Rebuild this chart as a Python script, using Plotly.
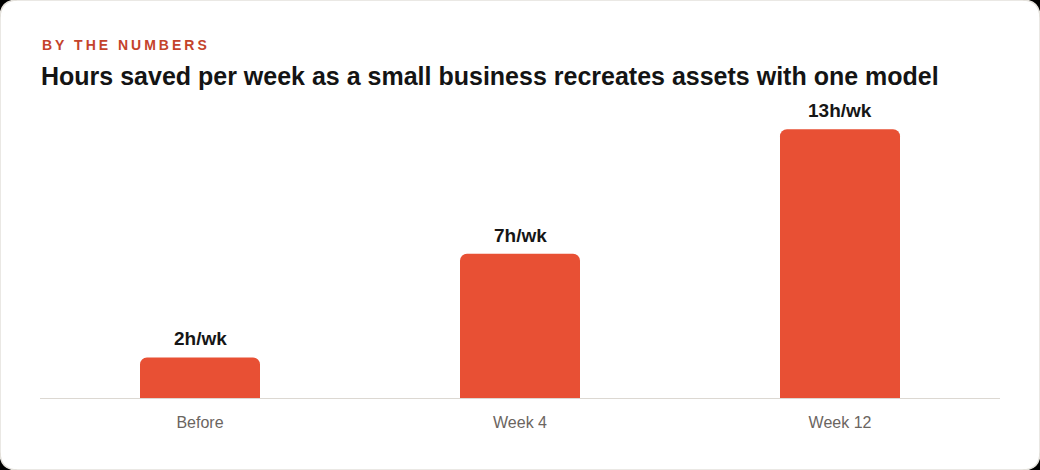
import plotly.graph_objects as go

categories = ["Before", "Week 4", "Week 12"]
hours = [2, 7, 13]
labels = ["2h/wk", "7h/wk", "13h/wk"]

W, H = 1040, 470
BAR = "#e85034"
FONT = "Liberation Sans, Arial, sans-serif"

fig = go.Figure(go.Bar(
    x=categories, y=hours,
    marker=dict(color=BAR, cornerradius=7, line=dict(width=0)),
    hoverinfo="skip",
))

fig.update_layout(
    width=W, height=H,
    paper_bgcolor="#000000", plot_bgcolor="rgba(0,0,0,0)",
    margin=dict(l=40, r=40, t=108, b=71),
    bargap=0.625,
    showlegend=False,
    font=dict(family=FONT),
    xaxis=dict(showgrid=False, zeroline=False, showline=False, ticks="",
               ticklabelstandoff=12,
               tickfont=dict(size=16, color="#6b655f"), fixedrange=True),
    yaxis=dict(range=[0, 14.02], visible=False, showgrid=False, zeroline=False, fixedrange=True),
)

pw = W - 80
ph = H - 108 - 71
def px(x):
    return (x - 40) / pw
def py(y):
    return (H - 71 - y) / ph

r = 18
card = (f"M {px(r)},{py(0)} L {px(W-r)},{py(0)} Q {px(W)},{py(0)} {px(W)},{py(r)} "
        f"L {px(W)},{py(H-r)} Q {px(W)},{py(H)} {px(W-r)},{py(H)} "
        f"L {px(r)},{py(H)} Q {px(0)},{py(H)} {px(0)},{py(H-r)} "
        f"L {px(0)},{py(r)} Q {px(0)},{py(0)} {px(r)},{py(0)} Z")

fig.add_shape(type="path", xref="paper", yref="paper", path=card, layer="below",
              fillcolor="#ffffff", line=dict(color="#e4e1db", width=1.5))
fig.add_shape(type="line", xref="paper", yref="y", x0=0, x1=1, y0=0, y1=0,
              line=dict(color="#dcd8d2", width=2), layer="above")

for c, v, t in zip(categories, hours, labels):
    fig.add_annotation(x=c, y=v, xref="x", yref="y", text=t, showarrow=False,
                       xanchor="center", yanchor="bottom", yshift=6,
                       font=dict(size=19, color="#161616", weight="bold"))

fig.add_annotation(xref="paper", yref="paper", x=px(40), y=py(45), xanchor="left", yanchor="middle",
                   showarrow=False,
                   text='<span style="letter-spacing:3px">BY THE NUMBERS</span>',
                   font=dict(size=14, color="#c4432b", weight="bold"))
fig.add_annotation(xref="paper", yref="paper", x=px(39), y=py(76), xanchor="left", yanchor="middle",
                   showarrow=False,
                   text="Hours saved per week as a small business recreates assets with one model",
                   font=dict(size=25, color="#141414", weight="bold"))

fig.write_html("out.html")
